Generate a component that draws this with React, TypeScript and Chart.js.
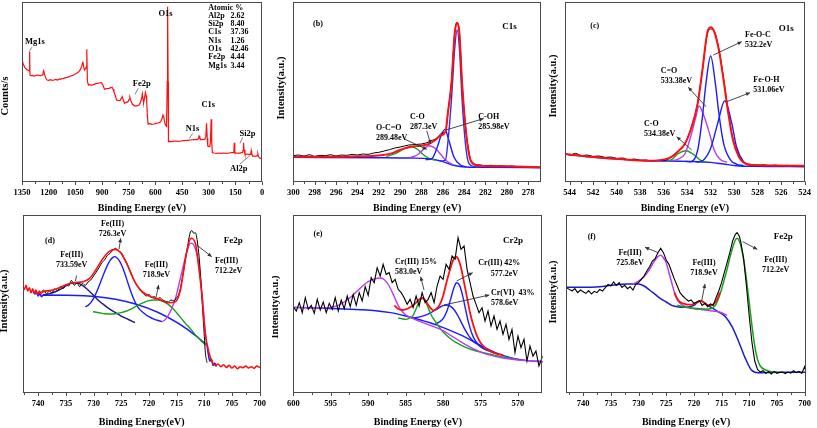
import React, { useEffect, useRef } from "react";
import { Chart, registerables } from "chart.js";
Chart.register(...registerables);

type Pt = [number, number];
const SERIF = "'Liberation Serif','Times New Roman',Times,serif";

// ---------------- (a) survey ----------------
const aTicks = [1350, 1200, 1050, 900, 750, 600, 450, 300, 150, 0];
const aSurvey: Pt[] = [
  [1350, 360], [1345, 355], [1340, 349], [1335, 343], [1330, 340], [1324, 336], [1318, 335], [1312, 333], [1308.5, 332], [1307, 390], [1305, 320],
  [1298, 318], [1290, 319], [1284, 317], [1275, 318], [1265, 320], [1256, 319], [1246, 318], [1237, 320], [1232, 326], [1228, 333], [1223, 322],
  [1218, 313], [1213, 308], [1209, 305], [1200, 304], [1190, 306], [1180, 304], [1171, 305], [1160, 307], [1150, 305], [1140, 308], [1134, 307],
  [1125, 309], [1115, 310], [1105, 312], [1096, 313], [1085, 315], [1075, 317], [1065, 319], [1059, 320], [1050, 323], [1040, 326], [1030, 330],
  [1022, 336], [1015, 345], [1010, 355], [1008, 360], [1004, 348], [999, 335], [995, 338], [991, 340], [988, 345], [985.5, 397], [982, 300],
  [976, 290], [968, 291], [960, 289], [955, 290], [945, 292], [935, 294], [927, 295], [915, 296], [903, 297], [895, 290], [886, 277], [875, 279],
  [861, 280], [850, 282], [843, 283], [838, 278], [833, 270], [825, 258], [818, 245], [810, 244], [799, 243], [792, 249], [786, 255], [780, 244],
  [773, 235], [764, 238], [754, 240], [748, 246], [743, 253], [737, 242], [730, 233], [720, 229], [711, 227], [700, 228], [692, 230], [687, 234],
  [683, 240], [677, 250], [673, 263], [669, 248], [666, 237], [661, 250], [656, 267], [652, 258], [649, 245], [645, 200], [641, 173], [630, 174],
  [620, 172], [607, 173], [595, 175], [585, 176], [575, 178], [570, 180], [563, 188], [557, 200], [553, 195], [549, 183], [545, 173], [541, 169],
  [537, 167], [533, 300], [531, 525], [528, 300], [526, 120], [520, 121], [510, 120], [500, 121], [490, 122], [470, 121], [457, 122], [440, 123],
  [420, 124], [401, 125], [385, 126], [370, 126], [363, 127], [357, 130], [354, 137], [350, 131], [344, 127], [335, 126], [322, 127], [316, 135],
  [312, 175], [308, 130], [305, 107], [300, 106], [294, 105], [290, 120], [286, 187], [283, 120], [279, 87], [270, 86], [255, 85], [240, 86],
  [232, 85], [215, 86], [200, 85], [185, 86], [170, 87], [162, 87], [158, 95], [156, 117], [153, 95], [151, 85], [140, 86], [125, 86], [115, 87],
  [109, 87], [106, 95], [104, 117], [101, 95], [96, 83], [85, 83], [75, 82], [66, 82], [63, 86], [60.5, 93], [58, 85], [53, 77], [45, 77],
  [35, 77], [28.6, 77], [25, 80], [23, 83], [20, 76], [15.4, 72], [8, 70], [0, 67],
];
const aAtomicLabels = ["Al2p", "Si2p", "C1s", "N1s", "O1s", "Fe2p", "Mg1s"];
const aAtomicValues = ["2.62", "8.40", "37.36", "1.26", "42.46", "4.44", "3.44"];

// ---------------- (b) C1s ----------------
const bTicks = [300, 298, 296, 294, 292, 290, 288, 286, 284, 282, 280, 278];
const bRaw: Pt[] = [
  [300, 78], [299.5, 80], [299, 77], [298.5, 81], [298, 76], [297.5, 79], [297, 78], [296.5, 81], [296, 77], [295.5, 80], [295, 79], [294.5, 82],
  [294, 80], [293.5, 83], [293, 82], [292.5, 86], [292, 88], [291.5, 92], [291, 96], [290.5, 101], [290, 104], [289.6, 107], [289.2, 110],
  [288.8, 111], [288.4, 112], [288, 113], [287.6, 116], [287.3, 119], [287, 124], [286.7, 128], [286.4, 136], [286.1, 146], [285.75, 150],
  [285.5, 212], [285.19, 298], [284.88, 448], [284.66, 478], [284.44, 448], [284.19, 298], [283.81, 148], [283.6, 100], [283.41, 68],
  [283.2, 58], [282.94, 52], [282.5, 50], [282, 48], [281.5, 49], [281, 47], [280.5, 48], [280, 46], [279.5, 47], [279, 45], [278.5, 46],
  [278, 44], [277.5, 45], [276.8, 43],
];
const bEnvelope: Pt[] = [
  [300, 75], [296, 75], [294, 76], [292.7, 77], [291.75, 79], [290.8, 85], [290.2, 93], [289.6, 100], [289, 105], [288.1, 108], [287.31, 113],
  [286.69, 125], [286.2, 138], [285.75, 150], [285.5, 212], [285.19, 295], [284.88, 445], [284.66, 477], [284.44, 445], [284.19, 295],
  [283.81, 145], [283.41, 65], [282.94, 50], [282, 47], [280, 46], [276.8, 43],
];
const bBackground: Pt[] = [
  [300, 73], [292, 72], [289, 71], [287.3, 69], [286.06, 61], [285.1, 50], [284.2, 45], [282, 43], [276.8, 42],
];
const bOCO: Pt[] = [[291.3, 75], [290.4, 85], [289.6, 99], [289, 105], [288.4, 98], [287.9, 83], [287.3, 70], [286.7, 65]];
const bCO: Pt[] = [[289, 73], [288.4, 80], [287.9, 94], [287.3, 108], [286.8, 102], [286.4, 90], [285.75, 65], [285.1, 52]];
const bCOH: Pt[] = [[287.6, 66], [287, 70], [286.5, 105], [286.2, 135], [285.8, 157], [285.44, 125], [284.97, 75], [284.34, 50], [283.8, 45]];
const bCC: Pt[] = [
  [286.3, 62], [285.75, 65], [285.5, 125], [285.19, 245], [284.88, 400], [284.66, 455], [284.44, 400], [284.19, 245], [283.88, 115],
  [283.56, 55], [283, 45], [282.5, 44],
];

// ---------------- (c) O1s ----------------
const cTicks = [544, 542, 540, 538, 536, 534, 532, 530, 528, 526, 524];
const cRaw: Pt[] = [
  [544.4, 84], [544, 80], [543.5, 85], [543, 78], [542.5, 80], [542, 76], [541.5, 77], [541, 73], [540.5, 74], [540, 70], [539.5, 71],
  [539, 66], [538.5, 68], [538, 64], [537.5, 65], [537, 62], [536.5, 64], [536, 63], [535.5, 70], [535.3, 75], [534.8, 92], [534.2, 114],
  [533.7, 158], [533.1, 238], [532.7, 335], [532.3, 440], [532, 458], [531.7, 452], [531.3, 398], [530.9, 310], [530.5, 210], [530.1, 128],
  [529.6, 78], [529.1, 56], [528.6, 52], [528, 49], [527.5, 51], [527, 48], [526.5, 50], [526, 47], [525.5, 49], [525, 47], [524.5, 48], [524, 46],
];
const cEnvelope: Pt[] = [
  [544.4, 83], [542.3, 75], [539.5, 67], [537.3, 63], [535.9, 67], [535.3, 75], [534.8, 90], [534.2, 113], [533.7, 155], [533.1, 235],
  [532.7, 335], [532.3, 445], [532, 463], [531.7, 450], [531.3, 395], [530.9, 305], [530.5, 205], [530.1, 125], [529.6, 75], [529.1, 55],
  [528.4, 50], [524, 48],
];
const cBackground: Pt[] = [
  [544.4, 83], [542.3, 75], [539.5, 67], [537.3, 63], [534, 61], [532, 58], [530.9, 53], [529.8, 48], [528.4, 46], [524, 45],
];
const cCO: Pt[] = [[535.6, 63], [535.3, 67], [534.8, 83], [534.1, 93], [533.4, 80], [532.8, 63], [532.4, 59]];
const cCdO: Pt[] = [
  [535.3, 63], [534.8, 67], [534.2, 83], [533.7, 135], [533.25, 195], [533, 227], [532.6, 200], [532.1, 145], [531.7, 95], [531.2, 67], [530.6, 58],
];
const cFeOC: Pt[] = [
  [534.2, 61], [533.7, 60], [533.1, 95], [532.7, 195], [532.4, 295], [532, 377], [531.6, 295], [531.3, 205], [530.9, 115], [530.3, 65],
  [529.8, 53], [529.2, 48],
];
const cFeOH: Pt[] = [
  [533.2, 58], [532.6, 65], [532, 100], [531.4, 175], [530.8, 243], [530.2, 175], [529.8, 105], [529.2, 60], [528.7, 50], [528, 46],
];

// ---------------- (d) Fe2p ----------------
const dTicks = [740, 735, 730, 725, 720, 715, 710, 705, 700];
const dRed: Pt[] = [
  [742.8, 318], [742.5, 310], [742.2, 322], [741.9, 305], [741.6, 315], [741.3, 300], [741, 312], [740.7, 298], [740.4, 308], [740.1, 295],
  [739.8, 305], [739.5, 298], [739.1, 303], [737.3, 308], [735.5, 320], [733.7, 330], [731.9, 333], [730.7, 343], [729.6, 368], [728.4, 400],
  [727.2, 423], [726, 430], [725.1, 420], [723.9, 383], [722.7, 338], [721.5, 308], [720, 290], [718.2, 280], [716.4, 270], [715.2, 273],
  [714.3, 308], [713.7, 368], [713.1, 428], [712.4, 463], [711.6, 448], [711, 378], [710.4, 288], [709.9, 188], [709.1, 118], [708.5, 90],
  [708, 82], [707.5, 86], [707, 78], [706.5, 84], [706, 76], [705.5, 82], [705, 74], [704.5, 80], [704, 72], [703.5, 78], [703, 75],
  [702.5, 80], [702, 74], [701.5, 78], [701, 73], [700.5, 80], [700, 76], [699.8, 78],
];
const dBlack: Pt[] = [
  [739.5, 300], [739, 308], [738.5, 296], [738, 305], [737.5, 300], [737, 312], [736.5, 306], [736, 318], [735.5, 312], [735, 325],
  [734.5, 320], [734, 337], [733.5, 322], [733, 330], [732.5, 318], [732, 328], [731.5, 322], [731, 332], [730.5, 338], [730, 350],
  [729.5, 362], [729, 375], [728.5, 390], [728, 398], [727.5, 412], [727, 418], [726.5, 428], [726, 433], [725.5, 425], [725, 420],
  [724.5, 405], [724, 390], [723.5, 370], [723, 350], [722.5, 330], [722, 318], [721.5, 305], [721, 298], [720.5, 290], [720, 295],
  [719.5, 286], [719, 288], [718.5, 282], [718, 285], [717.5, 278], [717, 274], [716.5, 272], [716, 278], [715.5, 276], [715, 285],
  [714.5, 300], [714, 340], [713.5, 390], [713, 440], [712.5, 482], [712.2, 486], [711.9, 478], [711.6, 480], [711.3, 460], [711, 420],
  [710.7, 360], [710.4, 280], [710.1, 200], [709.8, 120], [709.5, 90],
];
const dBackground: Pt[] = [
  [740.9, 305], [740.6, 296], [740.3, 302], [740, 290], [739.7, 298], [739.4, 288], [739.1, 293], [709.55, 143], [709.3, 120], [709, 95],
  [708.7, 100], [708.4, 82], [708.1, 88], [707.8, 78],
];
const dPeak733: Pt[] = [
  [739.1, 293], [738, 297], [737, 302], [736, 310], [735, 320], [734.3, 327], [733.5, 330], [732.7, 328], [732, 322], [731, 308], [730, 292],
  [729, 275], [728, 262], [727, 250], [726, 240], [725, 230], [724, 222], [723, 214], [722.5, 210],
];
const dPeak726: Pt[] = [
  [731.5, 258], [731, 262], [730.5, 270], [730, 283], [729.5, 300], [729, 320], [728.5, 342], [728, 363], [727.5, 382], [727, 397],
  [726.5, 406], [726.2, 408], [725.8, 405], [725.3, 395], [724.8, 378], [724.3, 355], [723.8, 330], [723.3, 305], [722.8, 283], [722.3, 265],
  [721.8, 252], [721, 240], [720, 228], [719, 220], [718, 215], [717.6, 213],
];
const dPeak719: Pt[] = [
  [730.1, 243], [729, 240], [728, 237], [727, 236], [726, 237], [725, 240], [724, 245], [723, 253], [722, 262], [721, 270], [720, 276],
  [719, 278], [718.2, 278], [717.5, 274], [716.5, 265], [715.8, 255], [715, 240], [714, 220], [713.4, 208], [712.5, 192], [711.5, 172],
  [711, 163], [710.2, 150], [709.55, 143],
];
const dPeak712: Pt[] = [
  [717.6, 213], [717, 220], [716.5, 232], [716, 248], [715.5, 268], [715, 295], [714.5, 330], [714, 365], [713.5, 400], [713, 430],
  [712.5, 448], [712.2, 448], [711.8, 440], [711.4, 420], [711, 385], [710.6, 330], [710.3, 280], [710, 220], [709.8, 180], [709.55, 143],
];

// ---------------- (e) Cr2p ----------------
const eTicks = [600, 595, 590, 585, 580, 575, 570];
const eRaw: Pt[] = [
  [600, 258], [599.6, 245], [599.2, 270], [598.8, 240], [598.4, 285], [598, 250], [597.6, 262], [597.2, 238], [596.8, 280], [596.4, 248],
  [596, 272], [595.6, 240], [595.2, 268], [594.8, 250], [594.4, 285], [594, 245], [593.6, 278], [593.2, 252], [592.8, 290], [592.4, 258],
  [592, 295], [591.6, 262], [591.2, 300], [590.8, 275], [590.4, 318], [590, 292], [589.6, 345], [589.2, 330], [588.8, 375], [588.4, 350],
  [588, 385], [587.6, 355], [587.2, 360], [586.8, 330], [586.4, 340], [586, 310], [585.6, 300], [585.2, 285], [584.8, 265], [584.4, 280],
  [584, 255], [583.6, 290], [583.2, 260], [582.8, 300], [582.4, 270], [582, 280], [581.6, 300], [581.2, 270], [580.8, 320], [580.4, 350],
  [580, 340], [579.6, 385], [579.2, 370], [578.8, 410], [578.4, 400], [578, 465], [577.6, 430], [577.2, 440], [576.8, 370], [576.4, 330],
  [576, 290], [575.6, 265], [575.2, 240], [574.8, 255], [574.4, 215], [574, 245], [573.6, 200], [573.2, 230], [572.8, 190], [572.4, 215],
  [572, 175], [571.6, 205], [571.2, 160], [570.8, 190], [570.4, 120], [570, 170], [569.6, 135], [569.2, 160], [568.8, 95], [568.4, 140],
  [568, 110], [567.6, 125], [567.2, 80], [566.7, 110],
];
const eEnvelope: Pt[] = [
  [586.5, 262], [586, 252], [585.5, 248], [585, 250], [584.5, 255], [584, 262], [583.6, 270], [583.2, 280], [582.8, 284], [582.4, 278],
  [582, 264], [581.6, 252], [581.3, 247], [581, 250], [580.5, 262], [580, 290], [579.5, 335], [579, 375], [578.6, 400], [578.3, 408],
  [578, 402], [577.6, 375], [577.2, 330], [576.8, 285], [576.4, 240], [576, 205], [575.5, 172], [575, 150], [574.5, 137], [574, 128],
  [573, 118], [572, 112],
];
const eSatellite: Pt[] = [
  [600, 256], [598, 255], [596, 254], [595, 256], [594, 262], [593, 275], [592, 293], [591, 315], [590, 333], [589, 342], [588.4, 344],
  [587.8, 338], [587.2, 320], [586.6, 292], [586, 262], [585.5, 245], [585, 234], [584, 222], [583, 213], [582, 204], [581, 196], [580, 186],
  [579, 172], [578, 158], [577, 144], [576, 132], [575, 122], [574, 114], [572, 104], [570, 98], [566.7, 93],
];
const eBackground: Pt[] = [
  [600, 256], [597, 254], [594, 252], [591, 249], [589, 246], [587, 240], [585, 230], [583, 218], [581, 204], [579, 186], [577, 166],
  [575, 142], [573, 120], [571, 105], [569, 97], [566.7, 93],
];
const ePeak583: Pt[] = [
  [586, 224], [585.5, 222], [585, 220], [584.5, 224], [584, 232], [583.6, 252], [583.2, 272], [582.8, 283], [582.4, 276], [582, 256],
  [581.6, 234], [581.3, 222], [581, 212], [580.5, 196], [580, 182], [579, 162], [578, 147], [577, 136], [576, 128], [575, 122], [574, 117],
  [573, 112], [572, 107], [570, 100],
];
const ePeakVI: Pt[] = [
  [584, 224], [583, 228], [582, 236], [581, 248], [580.5, 255], [580, 261], [579.5, 263], [579, 259], [578.5, 248], [578, 230], [577.5, 208],
  [577, 186], [576.5, 168], [576, 155], [575.5, 146], [575, 139], [574, 126], [573, 118],
];
const ePeakIII: Pt[] = [
  [581, 206], [580.5, 212], [580, 222], [579.5, 244], [579, 280], [578.6, 312], [578.2, 330], [577.8, 322], [577.4, 292], [577, 250],
  [576.6, 210], [576.2, 180], [575.8, 160], [575.3, 145], [575, 138], [574, 126],
];

// ---------------- (f) Fe2p ----------------
const fTicks = [740, 735, 730, 725, 720, 715, 710, 705, 700];
const fRaw: Pt[] = [
  [743.1, 316], [742.5, 310], [742, 305], [741.5, 312], [741, 300], [740.5, 308], [740, 303], [739.5, 298], [739, 306], [738.5, 296],
  [738, 304], [737.5, 300], [737, 310], [736.5, 305], [736, 315], [735.5, 325], [735, 320], [734.5, 332], [734, 322], [733.5, 330],
  [733, 316], [732.5, 322], [732, 312], [731.5, 318], [731, 308], [730.5, 325], [730, 330], [729.5, 340], [729, 350], [728.5, 365],
  [728, 378], [727.5, 395], [727, 402], [726.5, 420], [726, 433], [725.5, 420], [725, 398], [724.5, 385], [724, 362], [723.5, 340],
  [723, 320], [722.5, 300], [722, 290], [721.5, 282], [721, 275], [720.5, 278], [720, 268], [719.5, 272], [719, 276], [718.5, 262],
  [718, 268], [717.5, 258], [717, 266], [716.5, 262], [716, 285], [715.5, 305], [715, 330], [714.5, 360], [714, 390], [713.5, 420],
  [713, 455], [712.5, 475], [712.2, 480], [711.8, 470], [711.5, 450], [711, 400], [710.5, 320], [710, 230], [709.5, 150], [709, 95],
  [708.5, 70], [708, 62], [707.5, 66], [707, 58], [706.5, 63], [706, 56], [705.5, 64], [705, 58], [704.5, 61], [704, 62], [703.5, 57],
  [703, 62], [702.5, 59], [702, 66], [701.5, 60], [701, 64], [700.5, 58], [700, 78], [699.7, 60],
];
const fBackground: Pt[] = [
  [743.1, 316], [740, 316], [737, 318], [735, 322], [732, 326], [730, 326], [729, 320], [728, 308], [727, 295], [726, 282], [725, 272],
  [724, 262], [723, 258], [722, 256], [721, 257], [720, 262], [719.3, 272], [718.8, 276], [718.3, 272], [717.5, 262], [716.5, 252],
  [715.5, 242], [714.3, 228], [713.1, 198], [711.9, 153], [710.7, 103], [709.6, 68], [708.4, 60], [705, 61], [699.7, 61],
];
const fPeak725: Pt[] = [
  [731, 326], [730, 335], [729, 348], [728, 370], [727.5, 385], [727, 398], [726.5, 408], [726, 412], [725.5, 405], [725, 390],
  [724.5, 360], [724, 330], [723.5, 300], [723, 280], [722.5, 268], [722, 262], [721, 256], [720, 252], [719, 250], [718, 248], [717, 246],
  [716, 244], [715, 240], [714.5, 236], [714, 232],
];
const fPeak712: Pt[] = [
  [723, 262], [722, 258], [721, 255], [720, 253], [719, 252], [718, 251], [717, 252], [716.5, 256], [716, 265], [715.5, 285], [715, 310],
  [714.5, 340], [714, 370], [713.5, 405], [713, 435], [712.5, 458], [712.2, 463], [711.8, 455], [711.5, 440], [711, 400], [710.5, 340],
  [710, 270], [709.5, 200], [709, 140], [708.5, 100], [708, 80], [707, 68], [706, 63], [705, 62],
];
const fEnvelope: Pt[] = [
  [723.5, 300], [723, 282], [722.5, 272], [722, 268], [721.5, 266], [721, 264], [720.5, 264], [720, 266], [719.5, 270], [719, 275],
  [718.8, 276], [718.3, 272], [717.8, 266], [717.3, 262], [716.8, 262], [716.3, 268], [715.8, 280], [715.3, 300],
];

// ---------------- panel definitions ----------------
interface Series { pts: Pt[]; color: string; width: number; smooth?: boolean }
interface Note { t: string; x: number; y: number; align?: CanvasTextAlign; size?: number }
interface Arrow { x1: number; y1: number; x2: number; y2: number; head?: boolean }
interface Panel {
  key: string;
  box: [number, number, number, number];
  frame: [number, number, number, number];
  xMin: number; xMax: number; yMax: number;
  ticks: number[];
  xTitle: string; yTitle: string; yTitlePos: [number, number];
  series: Series[]; notes: Note[]; arrows: Arrow[]; arrowColor?: string;
}

const RED = "#ff1010", BLACK = "#000000", BLUE = "#1c1cff", GREEN = "#18a018", MAG = "#b83cf0", NAVY = "#1a1a90";
const BE = "Binding Energy (eV)";
const INT = "Intensity(a.u.)";

const atomicNotes: Note[] = [{ t: "Atomic %", x: 208.3, y: 7.5, align: "left" }];
aAtomicLabels.forEach((l, i) => {
  const y = 15.5 + i * 8.35;
  atomicNotes.push({ t: l, x: 208.3, y, align: "left" });
  atomicNotes.push({ t: aAtomicValues[i], x: 230.5, y, align: "left" });
});

const panels: Panel[] = [
  {
    key: "a", box: [0, 0, 272, 214], frame: [22, 2, 262, 181.7], xMin: 0, xMax: 1350, yMax: 539, ticks: aTicks,
    xTitle: BE, yTitle: "Counts/s", yTitlePos: [5, 96],
    series: [{ pts: aSurvey, color: RED, width: 1.2, smooth: false }],
    notes: [
      { t: "Mg1s", x: 25, y: 42, align: "left", size: 8.5 }, { t: "O1s", x: 165.5, y: 14, size: 8.5 },
      { t: "Fe2p", x: 141.7, y: 84, size: 8.5 }, { t: "C1s", x: 208.3, y: 105, size: 8.5 },
      { t: "N1s", x: 192.5, y: 129, size: 8.5 }, { t: "Si2p", x: 247.5, y: 134, size: 8.5 },
      { t: "Al2p", x: 238.8, y: 169, size: 8.5 }, ...atomicNotes,
    ],
    arrows: [
      { x1: 31.7, y1: 47.3, x2: 29.3, y2: 51.7 }, { x1: 138.3, y1: 88.3, x2: 135, y2: 94.3 },
      { x1: 192.7, y1: 133.3, x2: 189.3, y2: 138.3 }, { x1: 242.7, y1: 137.3, x2: 240, y2: 143.3 },
      { x1: 240, y1: 164, x2: 250, y2: 155.5 },
    ],
    arrowColor: "#777",
  },
  {
    key: "b", box: [272, 0, 274, 214], frame: [293.3, 2, 541, 181.7], xMin: 276.8, xMax: 300, yMax: 539, ticks: bTicks,
    xTitle: BE, yTitle: INT, yTitlePos: [281, 88],
    series: [
      { pts: bEnvelope, color: RED, width: 2 }, { pts: bRaw, color: BLACK, width: 1 }, { pts: bCC, color: "#3a2ae8", width: 1.4 },
      { pts: bCOH, color: BLUE, width: 1.4 }, { pts: bCO, color: MAG, width: 1.4 }, { pts: bOCO, color: GREEN, width: 1.4 },
      { pts: bBackground, color: BLUE, width: 1.4 },
    ],
    notes: [
      { t: "(b)", x: 318, y: 24 }, { t: "C1s", x: 509.5, y: 26.7, size: 9 },
      { t: "O-C=O", x: 376, y: 127.7, align: "left" }, { t: "289.48eV", x: 376, y: 137.5, align: "left" },
      { t: "C-O", x: 410, y: 117.3, align: "left" }, { t: "287.3eV", x: 410, y: 127.3, align: "left" },
      { t: "C-OH", x: 478.3, y: 117.3, align: "left" }, { t: "285.98eV", x: 478.3, y: 127.3, align: "left" },
    ],
    arrows: [
      { x1: 405, y1: 139.3, x2: 426.7, y2: 149.3, head: true }, { x1: 426.7, y1: 130.7, x2: 430.7, y2: 144, head: true },
      { x1: 446, y1: 130, x2: 483.3, y2: 118.7, head: true },
    ],
  },
  {
    key: "c", box: [546, 0, 271, 214], frame: [565, 2, 809.3, 181.7], xMin: 524, xMax: 544.4, yMax: 539, ticks: cTicks,
    xTitle: BE, yTitle: INT, yTitlePos: [553, 86],
    series: [
      { pts: cEnvelope, color: RED, width: 2 }, { pts: cRaw, color: BLACK, width: 1 }, { pts: cFeOC, color: BLUE, width: 1.4 },
      { pts: cFeOH, color: BLUE, width: 1.4 }, { pts: cCdO, color: MAG, width: 1.4 }, { pts: cCO, color: GREEN, width: 1.4 },
      { pts: cBackground, color: BLUE, width: 1.4 },
    ],
    notes: [
      { t: "(c)", x: 594.7, y: 26 }, { t: "O1s", x: 786.2, y: 28.3, size: 9 },
      { t: "Fe-O-C", x: 745, y: 35, align: "left" }, { t: "532.2eV", x: 745, y: 45, align: "left" },
      { t: "C=O", x: 660.7, y: 70.7, align: "left" }, { t: "533.38eV", x: 660.7, y: 80.7, align: "left" },
      { t: "Fe-O-H", x: 753.3, y: 80, align: "left" }, { t: "531.06eV", x: 753.3, y: 90, align: "left" },
      { t: "C-O", x: 644, y: 124, align: "left" }, { t: "534.38eV", x: 644, y: 134, align: "left" },
    ],
    arrows: [
      { x1: 713.3, y1: 55, x2: 741.7, y2: 41.7, head: true }, { x1: 706, y1: 106.7, x2: 688.3, y2: 87.3, head: true },
      { x1: 726.7, y1: 101.7, x2: 750, y2: 92.7, head: true }, { x1: 691.7, y1: 150, x2: 676.7, y2: 136.7, head: true },
    ],
  },
  {
    key: "d", box: [0, 214, 272, 214], frame: [22.7, 215, 262.7, 392.7], xMin: 699.8, xMax: 742.8, yMax: 533, ticks: dTicks,
    xTitle: "Binding Energy(eV)", yTitle: INT, yTitlePos: [4, 301],
    series: [
      { pts: dRed, color: RED, width: 1.6 }, { pts: dBlack, color: BLACK, width: 1 }, { pts: dPeak712, color: MAG, width: 1.4 },
      { pts: dPeak719, color: GREEN, width: 1.4 }, { pts: dPeak726, color: BLUE, width: 1.4 }, { pts: dPeak733, color: NAVY, width: 1.4 },
      { pts: dBackground, color: BLUE, width: 1.6 },
    ],
    notes: [
      { t: "(d)", x: 50, y: 240.7 }, { t: "Fe2p", x: 233.3, y: 240.7, size: 9 },
      { t: "Fe(III)", x: 112.5, y: 223.7 }, { t: "726.3eV", x: 112.5, y: 234 },
      { t: "Fe(III)", x: 71.7, y: 255 }, { t: "733.59eV", x: 71.7, y: 265 },
      { t: "Fe(III)", x: 156.3, y: 265 }, { t: "718.9eV", x: 156.3, y: 274.7 },
      { t: "Fe(III)", x: 215, y: 260.7, align: "left" }, { t: "712.2eV", x: 215, y: 271, align: "left" },
    ],
    arrows: [
      { x1: 119, y1: 249.3, x2: 120.7, y2: 238.3, head: true }, { x1: 75.5, y1: 281, x2: 76.5, y2: 275.5 },
      { x1: 156, y1: 297.3, x2: 158.7, y2: 285, head: true }, { x1: 196.7, y1: 245, x2: 211.7, y2: 256.7, head: true },
    ],
  },
  {
    key: "e", box: [272, 214, 274, 214], frame: [293.3, 215, 542.7, 392.7], xMin: 566.7, xMax: 600, yMax: 533, ticks: eTicks,
    xTitle: BE, yTitle: INT, yTitlePos: [275, 307],
    series: [
      { pts: eRaw, color: BLACK, width: 1.1, smooth: false }, { pts: eEnvelope, color: RED, width: 1.8 },
      { pts: eSatellite, color: MAG, width: 1.4 }, { pts: ePeak583, color: GREEN, width: 1.4 }, { pts: ePeakIII, color: BLUE, width: 1.4 },
      { pts: ePeakVI, color: BLUE, width: 1.4 }, { pts: eBackground, color: BLUE, width: 1.4 },
    ],
    notes: [
      { t: "(e)", x: 318, y: 234 }, { t: "Cr2p", x: 513, y: 240.7, size: 9 },
      { t: "Cr(III) 15%", x: 395, y: 262, align: "left" }, { t: "583.0eV", x: 395, y: 272, align: "left" },
      { t: "Cr(III) 42%", x: 478.3, y: 263.3, align: "left" }, { t: "577.2eV", x: 490.7, y: 274.3, align: "left" },
      { t: "Cr(VI)  43%", x: 491, y: 292.7, align: "left" }, { t: "578.6eV", x: 491, y: 303.3, align: "left" },
    ],
    arrows: [
      { x1: 424, y1: 290, x2: 420.7, y2: 276.7, head: true }, { x1: 456.7, y1: 281, x2: 472.7, y2: 272.7, head: true },
      { x1: 444, y1: 305, x2: 489.3, y2: 295, head: true },
    ],
  },
  {
    key: "f", box: [546, 214, 271, 214], frame: [566, 215, 808.3, 392.7], xMin: 699.7, xMax: 743.1, yMax: 533, ticks: fTicks,
    xTitle: BE, yTitle: INT, yTitlePos: [553, 292],
    series: [
      { pts: fRaw, color: BLACK, width: 1.1, smooth: false }, { pts: fEnvelope, color: RED, width: 1.8 },
      { pts: fPeak712, color: GREEN, width: 1.5 }, { pts: fPeak725, color: MAG, width: 1.5 }, { pts: fBackground, color: "#1c1cc8", width: 1.5 },
    ],
    notes: [
      { t: "(f)", x: 591.7, y: 236.7 }, { t: "Fe2p", x: 783.3, y: 236.7, size: 9 },
      { t: "Fe(III)", x: 630, y: 253.3 }, { t: "725.8eV", x: 630, y: 263.3 },
      { t: "Fe(III)", x: 704, y: 262.7 }, { t: "718.9eV", x: 704, y: 272.7 },
      { t: "Fe(III)", x: 775.7, y: 260 }, { t: "712.2eV", x: 775.7, y: 270 },
    ],
    arrows: [
      { x1: 658.3, y1: 252.7, x2: 645, y2: 247.3, head: true }, { x1: 701.7, y1: 300.7, x2: 705, y2: 284, head: true },
      { x1: 742.7, y1: 241.7, x2: 757.3, y2: 249.3, head: true },
    ],
  },
];

function drawArrow(ctx: CanvasRenderingContext2D, a: Arrow, color: string) {
  ctx.strokeStyle = color;
  ctx.fillStyle = color;
  ctx.lineWidth = 0.9;
  ctx.beginPath();
  ctx.moveTo(a.x1, a.y1);
  ctx.lineTo(a.x2, a.y2);
  ctx.stroke();
  if (a.head) {
    const ang = Math.atan2(a.y2 - a.y1, a.x2 - a.x1);
    const L = 4.5, w = 0.45;
    ctx.beginPath();
    ctx.moveTo(a.x2, a.y2);
    ctx.lineTo(a.x2 - L * Math.cos(ang - w), a.y2 - L * Math.sin(ang - w));
    ctx.lineTo(a.x2 - L * Math.cos(ang + w), a.y2 - L * Math.sin(ang + w));
    ctx.closePath();
    ctx.fill();
  }
}

function PanelChart({ p }: { p: Panel }) {
  const ref = useRef<HTMLCanvasElement | null>(null);
  useEffect(() => {
    const canvas = ref.current;
    if (!canvas) return;
    const [bx, by, bw, bh] = p.box;
    const [fl, ft, fr, fb] = p.frame;
    const decor = {
      id: "decor" + p.key,
      afterDatasetsDraw(chart: any) {
        const ctx: CanvasRenderingContext2D = chart.ctx;
        const a = chart.chartArea;
        const xs = chart.scales.x;
        ctx.save();
        ctx.strokeStyle = "#4a4a4a";
        ctx.lineWidth = 1;
        ctx.strokeRect(Math.round(a.left) + 0.5, Math.round(a.top) + 0.5, Math.round(a.right - a.left) - 1, Math.round(a.bottom - a.top) - 1);
        const step = Math.abs(p.ticks[1] - p.ticks[0]);
        const yb = Math.round(a.bottom) - 0.5;
        ctx.beginPath();
        p.ticks.forEach((v) => {
          const x = Math.round(xs.getPixelForValue(v)) + 0.5;
          ctx.moveTo(x, yb);
          ctx.lineTo(x, yb + 3.5);
          const m = v + step / 2;
          if (m <= p.xMax && m >= p.xMin) {
            const xm = Math.round(xs.getPixelForValue(m)) + 0.5;
            ctx.moveTo(xm, yb);
            ctx.lineTo(xm, yb + 2.5);
          }
        });
        ctx.stroke();
        ctx.restore();
      },
      afterDraw(chart: any) {
        const ctx: CanvasRenderingContext2D = chart.ctx;
        ctx.save();
        ctx.translate(-bx, -by);
        ctx.fillStyle = "#000";
        ctx.textBaseline = "middle";
        p.notes.forEach((n) => {
          ctx.font = `bold ${n.size || 8}px ${SERIF}`;
          ctx.textAlign = n.align || "center";
          ctx.fillText(n.t, n.x, n.y);
        });
        p.arrows.forEach((a) => drawArrow(ctx, a, p.arrowColor || "#2d3440"));
        ctx.save();
        ctx.translate(p.yTitlePos[0], p.yTitlePos[1]);
        ctx.rotate(-Math.PI / 2);
        ctx.font = `bold 10.5px ${SERIF}`;
        ctx.textAlign = "center";
        ctx.fillStyle = "#000";
        ctx.fillText(p.yTitle, 0, 0);
        ctx.restore();
        ctx.restore();
      },
    };
    const chart = new Chart(canvas, {
      type: "line",
      data: {
        datasets: p.series.map((s) => ({
          data: s.pts.map(([x, y]) => ({ x, y })),
          borderColor: s.color,
          borderWidth: s.width,
          pointRadius: 0,
          pointHoverRadius: 0,
          fill: false,
          tension: 0,
          cubicInterpolationMode: s.smooth === false ? "default" : "monotone",
        })),
      } as any,
      options: {
        animation: false,
        responsive: false,
        maintainAspectRatio: false,
        devicePixelRatio: 1,
        events: [],
        layout: { padding: { left: fl - bx, top: ft - by, right: bx + bw - fr, bottom: 0 } },
        plugins: { legend: { display: false }, tooltip: { enabled: false }, title: { display: false } },
        scales: {
          x: {
            type: "linear",
            reverse: true,
            min: p.xMin,
            max: p.xMax,
            afterBuildTicks: (s: any) => { s.ticks = p.ticks.map((v) => ({ value: v })); },
            afterFit: (s: any) => { s.height = by + bh - fb; },
            grid: { display: false, drawTicks: false },
            border: { display: false },
            ticks: {
              color: "#000",
              font: { family: SERIF, size: 8.5, weight: "bold" },
              padding: 6,
              maxRotation: 0,
              autoSkip: false,
              callback: (v: any) => String(v),
            },
            title: {
              display: true,
              text: p.xTitle,
              color: "#000",
              font: { family: SERIF, size: 10, weight: "bold" },
              padding: { top: 0, bottom: 0 },
            },
          },
          y: { type: "linear", display: false, min: 0, max: p.yMax },
        },
      } as any,
      plugins: [decor],
    });
    return () => chart.destroy();
  }, [p]);
  const [bx, by, bw, bh] = p.box;
  return (
    <canvas
      ref={ref}
      width={bw}
      height={bh}
      style={{ position: "absolute", left: bx, top: by, width: bw, height: bh }}
    />
  );
}

export default function App() {
  return (
    <div style={{ position: "fixed", left: 0, top: 0, width: 817, height: 428, background: "#fff", overflow: "hidden" }}>
      {panels.map((p) => (
        <PanelChart key={p.key} p={p} />
      ))}
    </div>
  );
}
